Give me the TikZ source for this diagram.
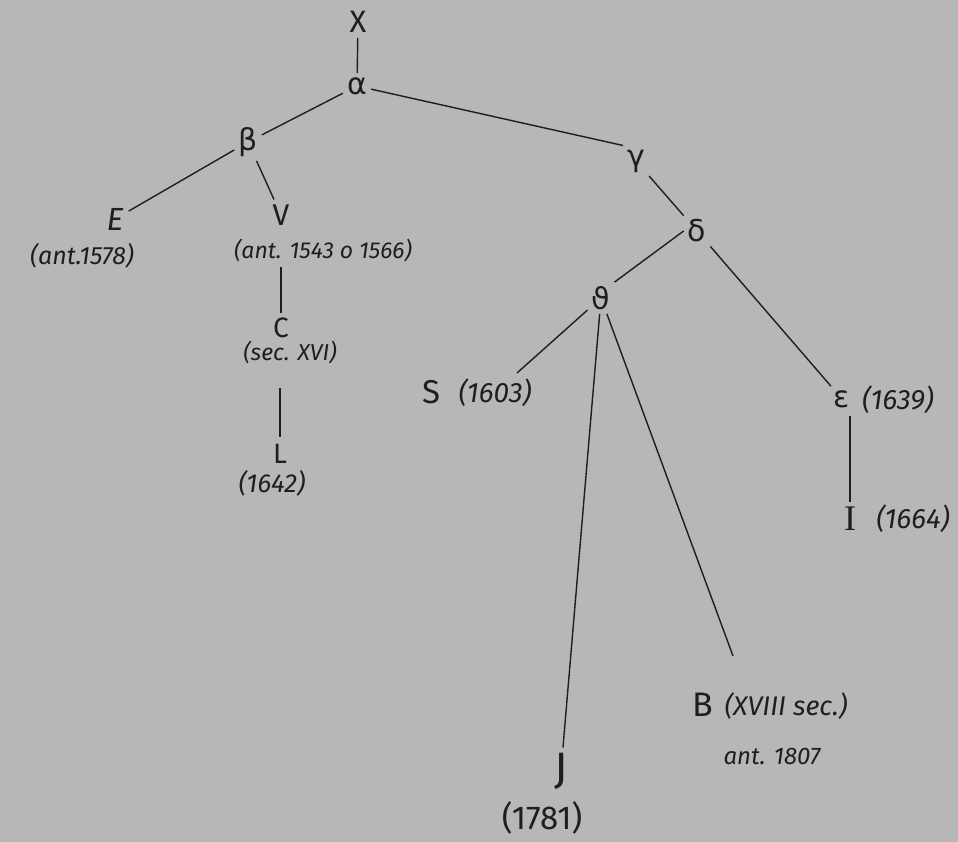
\documentclass[tikz,border=0pt]{standalone}
\usepackage{fontspec}
\setmainfont{Fira Sans}
\newfontfamily\grkfont{DejaVu Sans}
\newfontfamily\serffont{Liberation Serif}
\begin{document}
\begin{tikzpicture}[x=1pt,y=-1pt,
  let/.style={font=\fontsize{30}{30}\selectfont, inner sep=5pt, text=ink},
  grk/.style={font=\fontsize{30}{30}\selectfont\grkfont, inner sep=4pt, text=ink},
  dat/.style={font=\fontsize{23}{23}\selectfont\itshape, inner sep=2pt, text=ink},
  datb/.style={font=\fontsize{28}{28}\selectfont\itshape, inner sep=2pt, text=ink},
  edge/.style={draw=ink, line width=1.4pt}]
\definecolor{bg}{RGB}{183,183,183}
\definecolor{ink}{RGB}{30,30,30}
\fill[bg] (0,0) rectangle (958,842);
\useasboundingbox (0,0) rectangle (958,842);
% nodes
\node[let, font=\fontsize{31}{31}\selectfont] (X) at (358,22) {X};
\node[grk] (alpha) at (357,86) {α};
\node[grk] (beta) at (248,142) {β};
\node[grk] (gamma) at (636,161) {γ};
\node[grk] (delta) at (697,231) {δ};
\node[grk] (theta) at (601,298) {ϑ};
\node[let, font=\fontsize{32}{32}\selectfont\itshape] (E) at (115,219) {E};
\node[dat, font=\fontsize{25}{25}\selectfont\itshape] (Edate) at (82,256) {(ant.1578)};
\node[let] (V) at (281,215) {V};
\node[dat] (Vdate) at (323,250) {(ant. 1543 o 1566)};
\node[let, font=\fontsize{28}{28}\selectfont] (C) at (281,328) {C};
\node[dat] (Cdate) at (290,352) {(sec. XVI)};
\node[let, font=\fontsize{28}{28}\selectfont] (L) at (280,454) {L};
\node[dat, font=\fontsize{26}{26}\selectfont\itshape] (Ldate) at (272,483) {(1642)};
\node[let, font=\fontsize{33}{33}\selectfont] (S) at (431,392) {S};
\node[datb] (Sdate) at (495,393) {(1603)};
\node[grk] (eps) at (842,399) {ε};
\node[datb] (epsdate) at (898,400) {(1639)};
\node[let, font=\fontsize{36}{36}\selectfont\serffont] (I) at (850,519) {I};
\node[datb] (Idate) at (913,519) {(1664)};
\node[let, font=\fontsize{44}{44}\selectfont] (J) at (561,771) {J};
\node[font=\fontsize{33}{33}\selectfont, text=ink] (Jdate) at (542,818) {(1781)};
\node[let, font=\fontsize{34}{34}\selectfont] (B) at (703,705) {B};
\node[datb, font=\fontsize{27}{27}\selectfont\itshape] (Bdate) at (786,706) {(XVIII sec.)};
\node[dat, font=\fontsize{24}{24}\selectfont\itshape] (Bant) at (772,756) {ant. 1807};
\coordinate (Bend) at (733,656);
\coordinate (Send) at (517,373);
% connectors
\path[edge] (X) -- (alpha);
\path[edge] (alpha) -- (beta);
\path[edge] (alpha) -- (gamma.north west);
\path[edge] (beta) -- (E);
\path[edge] (beta) -- (V);
\path[edge, shorten <=3pt] (C |- Vdate.south) -- (C.north);
\path[edge, shorten <=22pt, shorten >=2pt] (L |- Cdate.south) -- (L.north);
\path[edge] (gamma) -- (delta);
\path[edge] (delta.west) -- (theta.north east);
\path[edge] (delta) -- (eps);
\path[edge] (theta) -- (Send);
\path[edge] (theta) -- (J);
\path[edge] (theta) -- (Bend);
\path[edge, shorten <=4pt] (I |- eps.south) -- (I.north);
\end{tikzpicture}
\end{document}
